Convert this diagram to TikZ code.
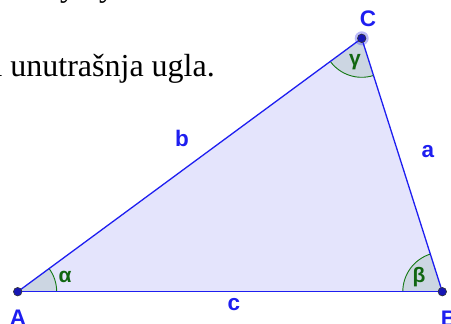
\documentclass[tikz,border=0pt]{standalone}
\usepackage{fontspec}
\setmainfont{Liberation Serif}
\newfontfamily\ggbfont{Liberation Sans}
\begin{document}
\begin{tikzpicture}[x=1pt,y=-1pt,
  side/.style={draw=ggbblue,line width=1.3pt},
  anglearc/.style={draw=anglegreen,line width=0.9pt},
  ptlabel/.style={text=ggbblue,font=\ggbfont\fontsize{22.5}{22.5}\selectfont\bfseries,inner sep=0pt},
  anglabel/.style={text=anglegreen!85!black,font=\ggbfont\fontsize{21}{21}\selectfont\bfseries,inner sep=0pt},
  dot/.style={circle,fill=ggbblue!75!black,draw=black!80,line width=0.6pt,inner sep=0pt,minimum size=8.5pt},
  txt/.style={font=\fontsize{32}{32}\selectfont,inner sep=0pt,anchor=base west}
]
\definecolor{ggbblue}{RGB}{30,30,240}
\definecolor{lavender}{RGB}{228,228,252}
\definecolor{anglegrey}{RGB}{204,214,226}
\definecolor{anglegreen}{RGB}{20,120,20}
\useasboundingbox (0,0) rectangle (451,324);
\clip (0,0) rectangle (451,324);
% top text fragments
\node[txt] (t1) at (60,-4) {y};
\node[txt] (t2) at (99,-4) {y};
\node[txt] (line) at (-12,76.7) {a unutrašnja ugla.};
% vertices
\coordinate (A) at (17.7,291.7);
\coordinate (B) at (442.3,291.7);
\coordinate (C) at (361.7,38.3);
\fill[lavender] (A) -- (B) -- (C) -- cycle;
% angle sectors
\fill[anglegrey] (A) -- ++(0:39) arc[start angle=0,end angle=-36.4,radius=39] -- cycle;
\draw[anglearc] (A) ++(0:39) arc[start angle=0,end angle=-36.4,radius=39];
\fill[anglegrey] (B) -- ++(180:39.5) arc[start angle=180,end angle=252.4,radius=39.5] -- cycle;
\draw[anglearc] (B) ++(180:39.5) arc[start angle=180,end angle=252.4,radius=39.5];
\fill[anglegrey] (C) -- ++(72.4:39) arc[start angle=72.4,end angle=143.6,radius=39] -- cycle;
\draw[anglearc] (C) ++(72.4:39) arc[start angle=72.4,end angle=143.6,radius=39];
% sides
\draw[side] (A) -- (B);
\draw[side] (B) -- (C);
\draw[side] (C) -- (A);
% points
\fill[ggbblue,opacity=0.3] (C) circle[radius=7];
\node[dot] (pA) at (A) {};
\node[dot] (pB) at (B) {};
\node[dot] (pC) at (C) {};
% labels
\node[ptlabel] (lA) at (18,318) {A};
\node[ptlabel] (lB) at (449,319) {B};
\node[ptlabel] (lC) at (368,19) {C};
\node[ptlabel] (la) at (428,152) {a};
\node[ptlabel] (lb) at (182,138) {b};
\node[ptlabel] (lc) at (234,305) {c};
\node[anglabel] (al) at (65,277) {α};
\node[anglabel] (be) at (419,277) {β};
\node[anglabel] (ga) at (355,62) {γ};
\end{tikzpicture}
\end{document}
